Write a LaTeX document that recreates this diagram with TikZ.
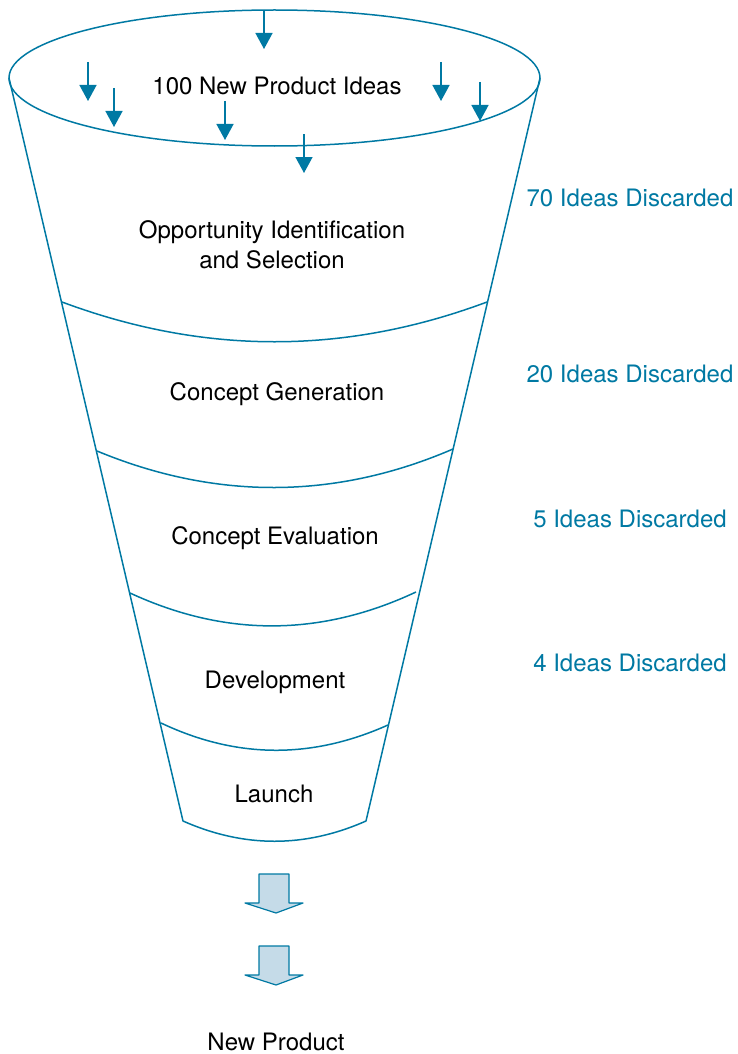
\documentclass[tikz,border=0pt]{standalone}
\usepackage{fontspec}
\setmainfont{TeX Gyre Heros}
\usetikzlibrary{arrows.meta}
\definecolor{funnelblue}{RGB}{0,121,163}
\definecolor{arrowfill}{RGB}{197,219,232}

\begin{document}
\begin{tikzpicture}[x=1pt,y=-1pt,
  line/.style={funnelblue,line width=1.5pt},
  drop/.style={funnelblue,line width=1.5pt,-{Triangle[length=16pt,width=17pt]}},
  stage/.style={font=\fontsize{24}{30}\selectfont,align=center},
  discard/.style={font=\fontsize{24}{30}\selectfont,text=funnelblue},
  bigarrow/.style={draw=funnelblue,fill=arrowfill,line width=1.2pt,line join=round}]
  \useasboundingbox (0,0) rectangle (738,1054);
  % funnel
  \draw[line] (274.5,78) ellipse [x radius=265.5,y radius=68];
  \coordinate (tl) at (9,78);
  \coordinate (tr) at (540,78);
  \coordinate (bl) at (183,821);
  \coordinate (br) at (366,821);
  \draw[line,line join=round] (tl) -- (bl) .. controls (244,848) and (305,848) .. (br) -- (tr);
  \draw[line] (62,302) .. controls (204,355) and (345,355) .. (487,302);
  \draw[line] (97,451) .. controls (215,500) and (335,500) .. (453,449);
  \draw[line] (130,593) .. controls (225,637) and (320,637) .. (416,592);
  \draw[line] (161,723) .. controls (237,759) and (312,759) .. (388,725);
  % ideas dropping in
  \foreach \x/\y in {264/10,88/62,114/88,225/101,441/62,480/82,304/134}
    \draw[drop] (\x,\y) -- ++(0,39);
  % stages
  \node[stage] (ideas) at (277,86) {100 New Product Ideas};
  \node[stage] (opp) at (272,245) {Opportunity Identification\\and Selection};
  \node[stage] (gen) at (277,394) {Concept Generation};
  \node[stage] (eval) at (275,538) {Concept Evaluation};
  \node[stage] (dev) at (275,682) {Development};
  \node[stage] (launch) at (274,794) {Launch};
  \node[stage] (newprod) at (276,1042) {New Product};
  % discarded
  \node[discard] (d70) at (630,198) {70 Ideas Discarded};
  \node[discard] (d20) at (630,374) {20 Ideas Discarded};
  \node[discard] (d5) at (630,519) {5 Ideas Discarded};
  \node[discard] (d4) at (630,663) {4 Ideas Discarded};
  % output arrows
  \foreach \y in {874,946}
    \draw[bigarrow] (259,\y) -- ++(30,0) -- ++(0,29) -- ++(14,0) -- ++(-27,10)
      -- ++(-31,-10) -- ++(14,0) -- cycle;
\end{tikzpicture}
\end{document}
